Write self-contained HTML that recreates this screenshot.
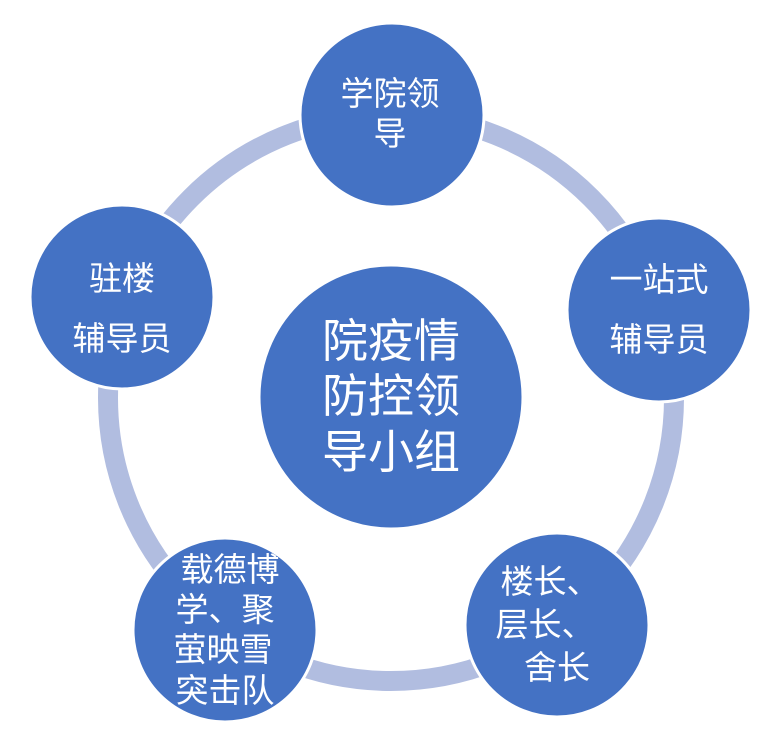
<!DOCTYPE html>
<html><head><meta charset="utf-8"><style>
html,body{margin:0;padding:0;background:#fff;}
svg text{font-family:"Liberation Sans","Noto Sans CJK SC",sans-serif;fill:#fff;text-anchor:middle;}
</style></head><body>
<svg width="782" height="732" viewBox="0 0 782 732" xmlns="http://www.w3.org/2000/svg">
<circle cx="391" cy="398" r="283" fill="none" stroke="#b1bde0" stroke-width="20"/>
<g fill="#4472c4" stroke="#fff" stroke-width="3">
<circle cx="391" cy="397" r="132"/>
<circle cx="392" cy="115" r="92"/>
<circle cx="659" cy="310" r="92"/>
<circle cx="557" cy="625" r="92"/>
<circle cx="225" cy="630" r="92"/>
<circle cx="122" cy="297" r="92"/>
</g>
<g font-size="46">
<text x="391" y="357">院疫情</text>
<text x="391" y="412">防控领</text>
<text x="391" y="468">导小组</text>
</g>
<g font-size="33">
<text x="390" y="105">学院领</text>
<text x="390" y="145">导</text>
<text x="659" y="291">一站式</text>
<text x="659" y="351">辅导员</text>
<text x="122" y="290">驻楼</text>
<text x="122" y="350">辅导员</text>
<text x="550" y="593">楼长、</text>
<text x="545" y="636">层长、</text>
<text x="557" y="679">舍长</text>
<text x="230" y="581">载德博</text>
<text x="225" y="621">学、聚</text>
<text x="223" y="661">萤映雪</text>
<text x="225" y="702">突击队</text>
</g>
</svg>
</body></html>
